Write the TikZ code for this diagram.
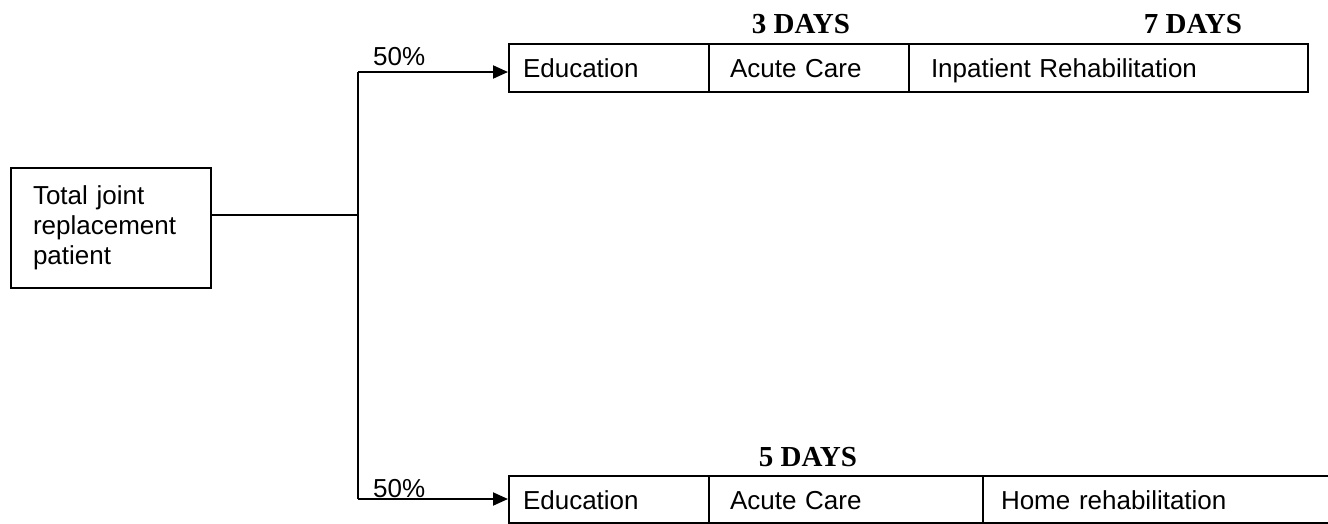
\documentclass[tikz,border=0pt]{standalone}
\usepackage{fontspec}
\setmainfont{Liberation Sans}
\newfontfamily\tnr{Liberation Serif}
\usetikzlibrary{arrows.meta}
\begin{document}
\begin{tikzpicture}[x=1pt,y=-1pt,
  every node/.style={font=\fontsize{26}{30}\selectfont},
  cell/.style={draw=black,line width=2pt,anchor=north west,minimum height=48pt,
    inner ysep=0pt,text height=19pt,text depth=0pt,align=left},
  startbox/.style={draw=black,line width=2pt,anchor=north west,minimum width=200pt,
    minimum height=120pt,inner xsep=22pt,text width=156pt,align=left},
  conn/.style={line width=2pt,draw=black},
  arr/.style={conn,-{Triangle[length=15pt,width=13pt]}},
  days/.style={font=\tnr\bfseries\fontsize{29}{32}\selectfont,anchor=base},
  pct/.style={anchor=base west,inner sep=0pt}
]
\useasboundingbox (0,0) rectangle (1328,523);

% start node
\node[startbox] (patient) at (10,167) {Total joint\\replacement\\patient};

% top row
\node[cell,inner xsep=14pt,text width=172pt] (edu1) at (508,43) {Education};
\node[cell,inner xsep=21pt,text width=158pt] (acute1) at (708,43) {Acute Care};
\node[cell,inner xsep=22pt,text width=355pt] (rehab1) at (908,43) {Inpatient Rehabilitation};

% bottom row
\node[cell,inner xsep=14pt,text width=172pt,minimum height=47pt] (edu2) at (508,475) {Education};
\node[cell,inner xsep=21pt,text width=232pt,minimum height=47pt] (acute2) at (708,475) {Acute Care};
\node[cell,inner xsep=18pt,text width=324pt,minimum height=47pt] (home2) at (982,475) {Home rehabilitation};

% day headers
\node[days] (d3) at (801,33) {3 DAYS};
\node[days] (d7) at (1193,33) {7 DAYS};
\node[days] (d5) at (808,466) {5 DAYS};

% connectors
\coordinate (split) at (358,215);
\coordinate (topc) at (358,72);
\coordinate (botc) at (358,499);
\draw[conn] (patient.east |- split) -- (split);
\draw[conn] (topc) -- (botc);
\draw[arr] (topc) -- (edu1.west |- topc);
\draw[arr] (botc) -- (edu2.west |- botc);

\node[pct] (p1) at (373,65) {50\%};
\node[pct] (p2) at (373,497) {50\%};
\end{tikzpicture}
\end{document}
